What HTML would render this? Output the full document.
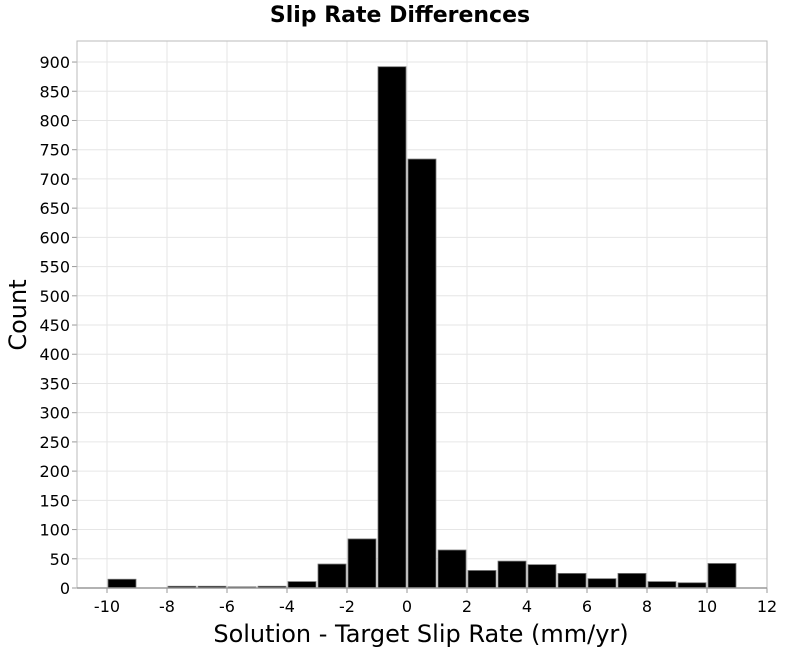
<!DOCTYPE html>
<html><head><meta charset="utf-8"><style>
body{margin:0;background:#fff;}
svg{display:block;font-family:"DejaVu Sans","Liberation Sans",sans-serif;}
</style></head><body>
<svg id="c" width="800" height="650">
<text x="400" y="22" text-anchor="middle" font-size="22" font-weight="bold">Slip Rate Differences</text>
<text x="421" y="642" text-anchor="middle" font-size="24">Solution - Target Slip Rate (mm/yr)</text>
<text transform="translate(26,315) rotate(-90)" text-anchor="middle" font-size="24">Count</text>
<g id="grid"></g><g id="bars"></g><g id="axes"></g>
</svg>
<script>
const binStarts=[-10,-9,-8,-7,-6,-5,-4,-3,-2,-1,0,1,2,3,4,5,6,7,8,9,10];
const counts=[15,0,3,3,2,3,11,41,84,892,734,65,30,46,40,25,16,25,11,9,42];
const xTicks=[-10,-8,-6,-4,-2,0,2,4,6,8,10,12];
const yTicks=[0,50,100,150,200,250,300,350,400,450,500,550,600,650,700,750,800,850,900];
const L=77,R=767,T=41,B=588,xmin=-11,xmax=12,ymax=936;
const xs=v=>L+(v-xmin)/(xmax-xmin)*(R-L);
const ys=v=>B-v/ymax*(B-T);
const NS="http://www.w3.org/2000/svg";
function mk(t,a,p){const e=document.createElementNS(NS,t);for(const k in a)e.setAttribute(k,a[k]);p.appendChild(e);return e;}
const g=document.getElementById('grid'),bg=document.getElementById('bars'),ax=document.getElementById('axes');
xTicks.forEach(v=>{
 const l=mk('line',{x1:xs(v),x2:xs(v),y1:T,y2:B,stroke:'#e6e6e6'},g);
 
 
 const tk=mk('line',{x1:xs(v),x2:xs(v),y1:B,y2:B+5,stroke:'#999'},ax);
 
 
 const t=mk('text',{x:xs(v),y:B+24,'text-anchor':'middle','font-size':16},ax);t.textContent=v;
 
 
});
yTicks.forEach(v=>{
 const l=mk('line',{x1:L,x2:R,y1:ys(v),y2:ys(v),stroke:'#e6e6e6'},g);
 
 
 const tk=mk('line',{x1:L-5,x2:L,y1:ys(v),y2:ys(v),stroke:'#999'},ax);
 
 
 const t=mk('text',{x:L-7,y:ys(v)+6,'text-anchor':'end','font-size':16},ax);t.textContent=v;
 
 
});
binStarts.forEach((b,i)=>{
 if(!counts[i])return;
 const x0=xs(b)+1,x1=xs(b+1)-1;
 const r=mk('rect',{x:x0,y:ys(counts[i]),width:x1-x0,height:B-ys(counts[i]),fill:'#000',stroke:'#777','stroke-width':0.8},bg);
 
 
});
const fr=mk('rect',{x:L,y:T,width:R-L,height:B-T,fill:'none',stroke:'#bbb'},ax);


const xa=mk('line',{x1:L,x2:R,y1:B,y2:B,stroke:'#999','stroke-width':1.5},ax);


</script>
</body></html>
